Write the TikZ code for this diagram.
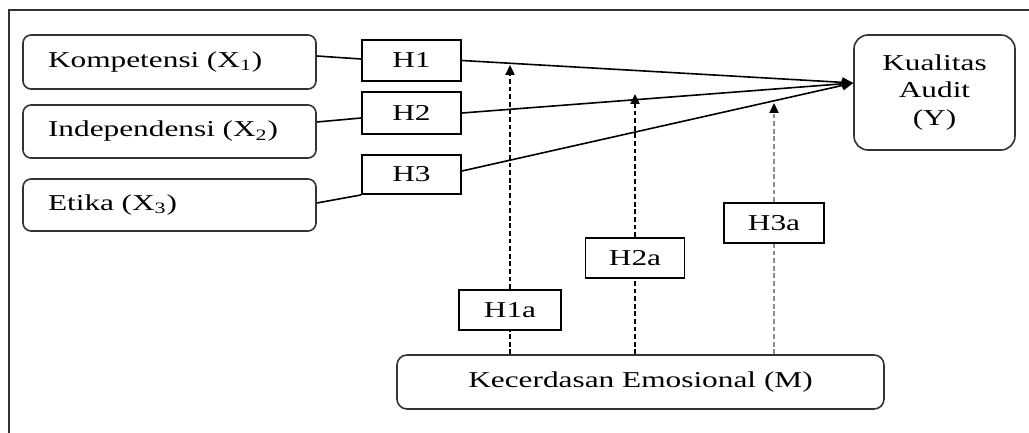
\documentclass[tikz,border=0pt]{standalone}
\usepackage{fontspec}
\setmainfont{Liberation Serif}[FakeStretch=1.38]
\usetikzlibrary{arrows.meta,calc}
\begin{document}
\begin{tikzpicture}[x=0.5pt,y=-0.5pt,
  txt/.style={font=\fontsize{11.35}{13.6}\selectfont},
  var/.style={txt, draw=black!80, line width=0.8pt, rounded corners=4pt, inner sep=0pt},
  hyp/.style={txt, draw=black, line width=0.95pt, inner sep=0pt, minimum width=49.5pt, minimum height=20.5pt},
  link/.style={line width=0.8pt},
  conv/.style={link, -{Triangle[length=5.5pt,width=5pt]}},
  modline/.style={line width=1.15pt, dash pattern=on 2.4pt off 1.4pt},
  modarrow/.style={modline, -{Triangle[length=5pt,width=4.5pt,color=black]}}]
\useasboundingbox (0,0) rectangle (1029,433);
\draw[line width=0.9pt, black!80] (1029,10) -- (9,10) -- (9,433);

% variable boxes
\node[var, minimum width=146.5pt, minimum height=27pt, text width=121.5pt, align=left] (X1) at (169.5,62) {Kompetensi (X\textsubscript{1})};
\node[var, minimum width=146.5pt, minimum height=26.5pt, text width=121.5pt, align=left] (X2) at (169.5,131.5) {Independensi (X\textsubscript{2})};
\node[var, minimum width=146.5pt, minimum height=26pt, text width=121.5pt, align=left] (X3) at (169.5,205) {Etika (X\textsubscript{3})};
\node[var, rounded corners=7pt, minimum width=80.5pt, minimum height=57.5pt, align=center] (Y) at (934.5,92.5) {Kualitas\\Audit\\(Y)};
\node[var, rounded corners=5pt, minimum width=243.5pt, minimum height=27pt] (M) at (640.5,382) {Kecerdasan Emosional (M)};

% hypothesis boxes
\node[hyp] (H1) at (411.5,60.5) {H1};
\node[hyp, minimum height=21pt] (H2) at (411.5,113) {H2};
\node[hyp, minimum height=19.5pt] (H3) at (411.5,174.5) {H3};
\node[hyp, minimum width=51pt, minimum height=20pt] (H1a) at (510,310) {H1a};
\node[hyp, minimum height=20pt] (H2a) at (635,258) {H2a};
\node[hyp, minimum width=50pt, minimum height=20pt] (H3a) at (774,223) {H3a};

% connectors X -> H
\draw[link] ($(X1.east)+(0,-6)$) -- ($(H1.west)+(0,-1.5)$);
\draw[link] ($(X2.east)+(0,-9.5)$) -- ($(H2.west)+(0,5)$);
\draw[link] ($(X3.east)+(0,-2)$) -- (H3.south west);

% connectors H -> Y
\coordinate (tip) at ($(Y.west)+(0,-9.5)$);
\draw[conv] (H1.east) -- (tip);
\draw[conv] (H2.east) -- (tip);
\draw[conv] ($(H3.east)+(0,-3.5)$) -- (tip);

% moderation
\coordinate (t1) at (510,65);
\coordinate (t2) at (635,94);
\coordinate (t3) at (774,103);
\draw[modline] (H1a.south |- M.north) -- (H1a.south);
\draw[modarrow] (H1a.north) -- (t1);
\draw[modline] (H2a.south |- M.north) -- (H2a.south);
\draw[modarrow] (H2a.north) -- (t2);
\draw[modline, black!45] (H3a.south |- M.north) -- (H3a.south);
\draw[modarrow, black!45] (H3a.north) -- (t3);
\end{tikzpicture}
\end{document}
